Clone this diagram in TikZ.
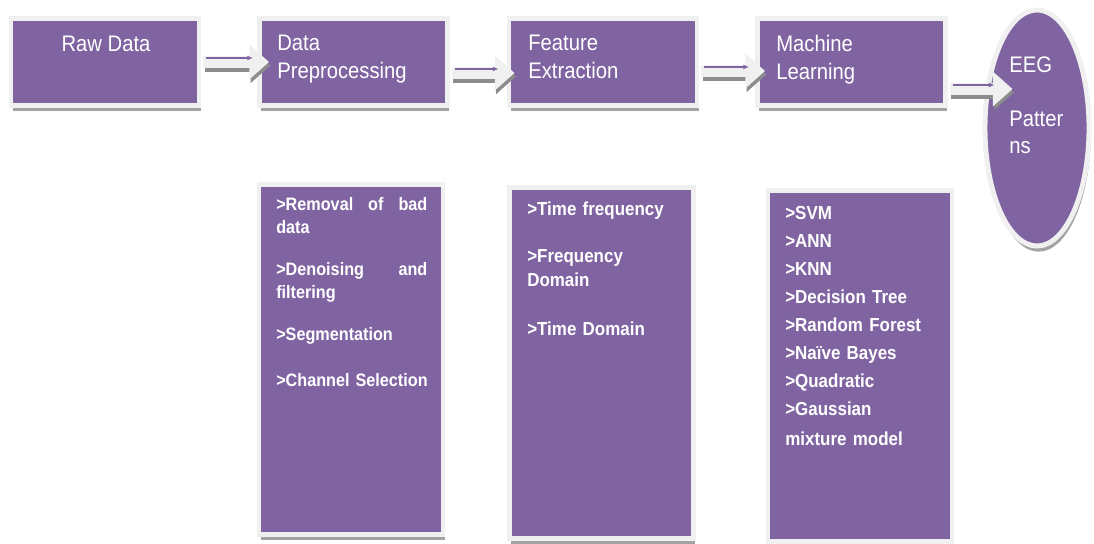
\documentclass[tikz,border=0pt]{standalone}
\usepackage{fontspec}
\setmainfont[FakeStretch=0.9]{Liberation Sans}
\usetikzlibrary{arrows.meta,calc,shapes.geometric,shadows}
\definecolor{figpurple}{RGB}{128,100,162}
\definecolor{figframe}{RGB}{240,240,240}
\definecolor{figshade}{RGB}{140,140,140}
\tikzset{
  stage/.style  ={fill=figpurple, draw=figframe, line width=3.5pt, inner sep=0pt,
                  drop shadow={shadow xshift=1.2pt, shadow yshift=-4pt, fill=figshade, opacity=0.8}},
  topbox/.style ={stage, minimum width=4.7cm, minimum height=2.175cm},
  listbox/.style={stage, minimum width=4.6cm, minimum height=8.75cm},
  toptxt/.style ={text=white, font=\fontsize{16}{19.9}\selectfont, inner sep=0pt, align=left},
  listtxt/.style={text=white, font=\bfseries\fontsize{13.4}{16.4}\selectfont, inner sep=0pt,
                  align=left, text width=3.775cm},
  flow/.style   ={draw=figframe, line width=9pt, -{Triangle[width=24pt,length=14pt]},
                  preaction={draw=figshade, line width=9pt, -{Triangle[width=24pt,length=14pt]},
                             transform canvas={shift={(1pt,-2.5pt)}}}},
  flowln/.style ={draw=figpurple, line width=0.9pt, -{Latex[length=4pt,width=3.5pt]}},
}
\begin{document}
\begin{tikzpicture}[x=0.025cm, y=-0.025cm]
  \useasboundingbox (0,0) rectangle (1094,544);
  % top row
  \node[topbox] (raw)   at (105,62)   {};
  \node[topbox] (prep)  at (353.5,62) {};
  \node[topbox] (feat)  at (603,62)   {};
  \node[topbox] (learn) at (851.5,62) {};
  \node[stage, ellipse, minimum width=2.6cm, minimum height=5.9cm] (eeg) at (1037,128) {};
  % lists
  \node[listbox] (prepl)  at (351,359.5) {};
  \node[listbox] (featl)  at (601.5,363) {};
  \node[listbox] (learnl) at (860,366)   {};
  % arrows
  \draw[flow]   ($(raw.east)+(2,0)$) -- ($(prep.west)+(12,0)$);
  \draw[flowln] ($(raw.east)+(5,-4)$) -- ($(prep.west)+(-4,-4)$);
  \draw[flow]   ($(prep.east)+(2,11)$) -- ($(feat.west)+(8,11)$);
  \draw[flowln] ($(prep.east)+(5,7)$) -- ($(feat.west)+(-8,7)$);
  \draw[flow]   ($(feat.east)+(2,9)$) -- ($(learn.west)+(10,9)$);
  \draw[flowln] ($(feat.east)+(5,5)$) -- ($(learn.west)+(-6,5)$);
  \draw[flow]   ($(learn.east)+(2,27)$) -- ($(learn.east -| eeg.west)+(30,27)$);
  \draw[flowln] ($(learn.east)+(5,23)$) -- ($(learn.east -| eeg.west)+(12,23)$);
  % labels
  \node[toptxt, anchor=north]      (rawt)   at (106,36) {Raw Data};
  \node[toptxt, anchor=north west] (prept)  at (277,35) {Data\\Preprocessing};
  \node[toptxt, anchor=north west] (featt)  at (528,35) {Feature\\Extraction};
  \node[toptxt, anchor=north west] (learnt) at (776,35) {Machine\\Learning};
  \node[toptxt, anchor=north west] (eegt)   at (1009,57) {EEG\\[17.8pt]Patter\\ns};
  \node[listtxt, anchor=north west, font=\bfseries\fontsize{12.8}{16.4}\selectfont] (preplt) at (276,197)
    {>Removal\hfill of\hfill bad\\data\\[13.5pt]>Denoising\hfill and\\filtering\\[13.5pt]%
     >Segmentation\\[16.4pt]\mbox{>Channel Selection}};
  \node[listtxt, anchor=north west, font=\bfseries\fontsize{13.4}{17}\selectfont] (featlt) at (527,202)
    {>Time frequency\\[16.4pt]>Frequency\\Domain\\[17.8pt]>Time Domain};
  \node[listtxt, anchor=north west, font=\bfseries\fontsize{13.4}{19.9}\selectfont] (learnlt) at (785,206)
    {>SVM\\>ANN\\>KNN\\>Decision Tree\\>Random Forest\\>Naïve Bayes\\>Quadratic\\>Gaussian\\[1.5pt]mixture model};
\end{tikzpicture}
\end{document}
